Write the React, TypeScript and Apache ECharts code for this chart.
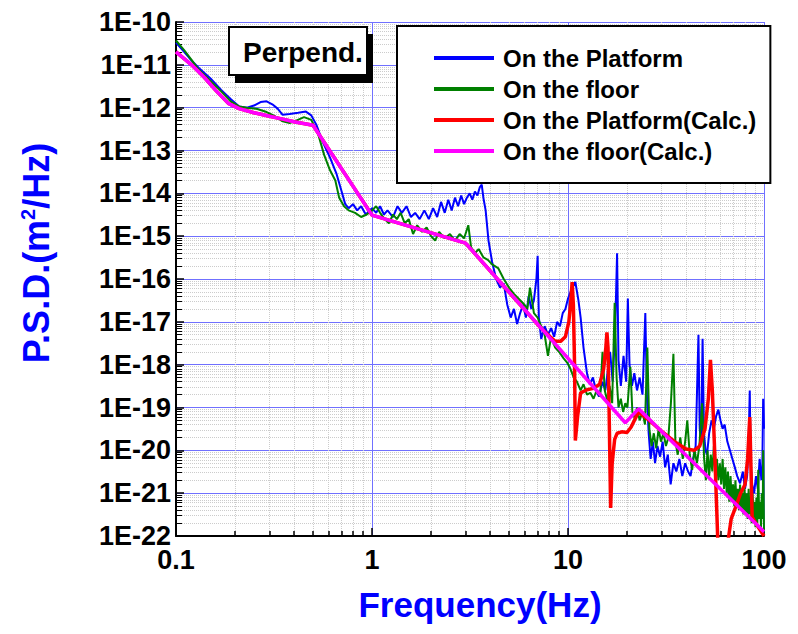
import React, { useEffect, useRef } from "react";
import * as echarts from "echarts";

const FONT = "'Liberation Sans', Arial, sans-serif";

const seriesNames = ["On the Platform", "On the floor", "On the Platform(Calc.)", "On the floor(Calc.)"];
const seriesColors = ["#0000ff", "#008000", "#ff0000", "#ff00ff"];

const platformFreq = [0.1, 0.11, 0.12, 0.13, 0.15, 0.17, 0.19, 0.21, 0.23, 0.25, 0.27, 0.29, 0.31, 0.33, 0.35, 0.38, 0.42, 0.46, 0.49, 0.52, 0.56, 0.61, 0.66, 0.7, 0.73, 0.76, 0.8, 0.84, 0.88, 0.93, 1.0, 1.05, 1.1, 1.15, 1.2, 1.28, 1.35, 1.42, 1.5, 1.58, 1.66, 1.75, 1.85, 1.95, 2.05, 2.15, 2.25, 2.35, 2.45, 2.55, 2.65, 2.75, 2.85, 2.95, 3.05, 3.15, 3.25, 3.35, 3.45, 3.55, 3.63, 3.7, 3.8, 3.93, 4.1, 4.3, 4.5, 4.7, 4.9, 5.1, 5.3, 5.5, 5.7, 5.9, 6.1, 6.3, 6.5, 6.7, 6.9, 7.0, 7.1, 7.3, 7.6, 7.9, 8.2, 8.5, 8.8, 9.1, 9.4, 9.7, 10.0, 10.4, 10.9, 11.3, 11.6, 12.0, 12.5, 12.9, 13.4, 13.9, 14.4, 15.0, 15.5, 15.9, 16.4, 16.9, 17.4, 17.8, 18.1, 18.6, 19.2, 19.8, 20.2, 20.6, 21.2, 21.8, 22.5, 23.2, 24.0, 24.8, 25.3, 25.8, 26.4, 27.1, 27.8, 28.6, 29.5, 30.4, 31.3, 32.3, 33.4, 34.5, 35.7, 37.0, 38.3, 39.6, 41.0, 42.2, 43.5, 44.8, 45.6, 46.3, 47.0, 47.8, 48.6, 49.4, 50.3, 51.2, 52.5, 54, 55.5, 57, 58.5, 60, 61.5, 63, 65, 67, 69, 71, 73, 75.5, 78, 80, 82, 83.5, 84.6, 85.5, 87, 89, 91, 93, 95, 97, 98, 99, 100];
const platformPsd = [3.3e-11, 2.0e-11, 1.26e-11, 8.7e-12, 4.8e-12, 2.6e-12, 1.6e-12, 1.07e-12, 1.0e-12, 1.12e-12, 1.35e-12, 1.41e-12, 1.2e-12, 9.5e-13, 6.8e-13, 7.1e-13, 7.6e-13, 8.1e-13, 6.6e-13, 4.0e-13, 1.6e-13, 6.9e-14, 2.8e-14, 1.1e-14, 5.6e-15, 4.5e-15, 5.6e-15, 4.0e-15, 5.0e-15, 3.2e-15, 4.5e-15, 3.5e-15, 5.0e-15, 3.2e-15, 4.0e-15, 2.8e-15, 5.0e-15, 3.5e-15, 5.0e-15, 2.8e-15, 3.5e-15, 2.5e-15, 4.0e-15, 2.5e-15, 4.5e-15, 2.8e-15, 6.3e-15, 3.5e-15, 7.1e-15, 4.0e-15, 7.9e-15, 5.0e-15, 8.9e-15, 5.6e-15, 7.9e-15, 1.0e-14, 7.1e-15, 1.1e-14, 8.9e-15, 1.4e-14, 1.6e-14, 7.9e-15, 4.0e-15, 7.9e-16, 2.5e-16, 1.0e-16, 6.3e-17, 7.9e-17, 2.5e-17, 1.26e-17, 2.0e-17, 8.9e-18, 1.6e-17, 2.5e-17, 1.26e-17, 4.0e-17, 2.0e-17, 3.2e-17, 1.0e-16, 3.5e-16, 1.26e-17, 4.0e-18, 7.9e-18, 5.0e-18, 7.1e-18, 4.5e-18, 1.0e-17, 7.9e-18, 1.6e-17, 2.0e-17, 3.5e-17, 5.6e-17, 8.5e-17, 3.2e-17, 1.26e-17, 2.5e-18, 6.3e-19, 3.5e-19, 5.0e-19, 2.5e-19, 1.8e-19, 4.0e-19, 2.5e-19, 6.3e-19, 2.0e-18, 4.0e-19, 6.3e-18, 4.0e-16, 1.26e-18, 3.2e-19, 1.6e-18, 4.0e-19, 3.5e-17, 1.0e-18, 3.2e-19, 6.3e-19, 2.5e-19, 5.0e-19, 2.0e-19, 1.6e-17, 1.6e-19, 2.5e-20, 6.3e-21, 1.6e-20, 5.0e-21, 1.26e-20, 7.1e-21, 1.6e-20, 4.0e-21, 7.9e-21, 1.6e-21, 5.0e-21, 3.2e-21, 6.3e-21, 2.5e-21, 5.0e-21, 3.2e-21, 2.5e-21, 6.3e-21, 1.26e-20, 3.2e-19, 5.0e-18, 3.2e-20, 1.6e-20, 4.0e-18, 2.5e-20, 1.0e-20, 7.9e-21, 2.5e-20, 5.0e-20, 3.2e-20, 6.3e-20, 8.9e-20, 5.0e-20, 3.2e-20, 4.0e-20, 1.6e-20, 1.0e-20, 6.3e-21, 4.0e-21, 2.5e-21, 1.7e-21, 3.2e-21, 1.26e-21, 2.5e-21, 1.6e-20, 2.5e-19, 5.0e-21, 1.6e-21, 1.0e-21, 2.5e-21, 1.26e-21, 6.3e-21, 2.0e-21, 3.2e-21, 1.6e-19, 3.2e-20];

const floorFreq = [0.1, 0.11, 0.12, 0.13, 0.15, 0.17, 0.19, 0.21, 0.23, 0.26, 0.29, 0.32, 0.35, 0.38, 0.41, 0.45, 0.49, 0.53, 0.57, 0.61, 0.65, 0.68, 0.72, 0.76, 0.82, 0.88, 0.94, 1.0, 1.05, 1.1, 1.16, 1.22, 1.28, 1.34, 1.4, 1.47, 1.54, 1.62, 1.7, 1.8, 1.9, 2.0, 2.1, 2.2, 2.35, 2.5, 2.65, 2.8, 2.95, 3.1, 3.2, 3.35, 3.5, 3.7, 3.9, 4.1, 4.4, 4.7, 5.0, 5.3, 5.7, 6.0, 6.2, 6.4, 6.7, 7.0, 7.3, 7.6, 7.9, 8.2, 8.6, 9.0, 9.5, 9.9, 10.3, 10.7, 11.1, 11.6, 12.0, 12.5, 13.0, 13.5, 14.0, 14.6, 15.0, 15.4, 15.9, 16.3, 16.8, 17.3, 17.7, 18.1, 18.6, 19.1, 19.6, 20.1, 20.8, 21.3, 21.9, 22.5, 23.2, 24.0, 24.7, 25.4, 26.0, 26.7, 27.4, 28.2, 29.0, 29.8, 30.7, 31.6, 32.5, 33.5, 34.5, 35.3, 36.3, 37.4, 38.5, 39.6, 40.6, 41.8, 43.0, 44.2, 45.5, 46.8, 48.3, 49.5, 50.5, 51.5, 52.5, 53.5, 54.5, 55.5, 56.5, 57.5, 58.5, 59.5, 60.5, 61.5, 62.5, 63.5, 64.5, 65.5, 66.5, 67.5, 68.5, 69.5, 70.5, 71.5, 72.5, 73.5, 74.5, 75.5, 76.5, 77.5, 78.5, 79.5, 80.5, 81.5, 82.5, 83.5, 84.5, 85.5, 86.5, 87.5, 88.5, 89.5, 90.5, 91.5, 92.5, 93.5, 94.5, 95.5, 96.5, 97.5, 98.5, 99, 100];
const floorPsd = [3.7e-11, 2.2e-11, 1.3e-11, 7.9e-12, 4.2e-12, 2.4e-12, 1.4e-12, 1.07e-12, 1.0e-12, 9.3e-13, 7.9e-13, 6.3e-13, 4.8e-13, 4.4e-13, 5.0e-13, 6.0e-13, 5.2e-13, 2.5e-13, 7.9e-14, 3.5e-14, 2.0e-14, 7.9e-15, 5.0e-15, 4.0e-15, 3.5e-15, 2.8e-15, 3.2e-15, 4.0e-15, 5.0e-15, 3.5e-15, 2.5e-15, 2.0e-15, 3.2e-15, 2.5e-15, 3.5e-15, 2.0e-15, 2.5e-15, 1.12e-15, 1.8e-15, 1.26e-15, 1.6e-15, 1.0e-15, 7.9e-16, 1.26e-15, 8.9e-16, 1.12e-15, 7.9e-16, 1.12e-15, 8.9e-16, 1.8e-15, 5.6e-16, 4.0e-16, 5.0e-16, 3.2e-16, 2.8e-16, 2.2e-16, 1.8e-16, 1.0e-16, 6.3e-17, 4.5e-17, 3.2e-17, 2.5e-17, 2.0e-17, 6.3e-17, 1.6e-17, 1.26e-17, 7.9e-18, 5.0e-18, 1.6e-18, 4.5e-18, 2.5e-18, 2.0e-18, 1.4e-18, 1.12e-18, 7.9e-19, 5.0e-19, 4.0e-19, 2.5e-19, 3.5e-19, 2.0e-19, 2.2e-19, 1.6e-19, 2.5e-19, 1.8e-19, 2.0e-18, 2.5e-19, 1.4e-19, 3.2e-19, 1.26e-19, 2.8e-17, 5.0e-19, 1.0e-19, 1.6e-19, 7.9e-20, 1.26e-19, 1.0e-19, 8.9e-19, 7.9e-20, 5.6e-20, 1.0e-19, 5.0e-20, 7.9e-20, 4.0e-20, 2.5e-18, 3.2e-20, 1.26e-20, 2.5e-20, 1.12e-20, 3.2e-20, 1.6e-20, 2.5e-20, 1.26e-20, 2.0e-20, 1.26e-19, 1.8e-18, 1.6e-20, 7.9e-21, 2.0e-20, 6.3e-21, 1.6e-20, 5.0e-20, 7.9e-21, 3.5e-21, 1.0e-20, 5.0e-21, 1.26e-20, 1.26e-19, 6.3e-21, 2.0e-21, 1.0e-20, 2.5e-21, 7.9e-21, 3.2e-21, 1.26e-20, 2.5e-21, 6.3e-21, 2.0e-21, 5.0e-21, 1.6e-21, 6.3e-21, 1.26e-21, 4.0e-21, 1.0e-21, 3.2e-21, 6.3e-22, 2.5e-21, 6.3e-22, 1.6e-21, 5.0e-22, 2.0e-21, 5.0e-22, 1.26e-21, 4.0e-22, 1.6e-21, 4.0e-22, 1.0e-21, 3.2e-22, 1.4e-21, 3.2e-22, 1.0e-21, 2.5e-22, 1.26e-21, 3.2e-22, 7.9e-22, 2.0e-22, 1.0e-21, 2.5e-22, 6.3e-22, 1.6e-22, 7.9e-22, 2.0e-22, 3.5e-21, 2.5e-22, 6.3e-22, 1.6e-22, 1.0e-21, 2.5e-22, 1.0e-20, 1.26e-22];

const platformCalcFreq = [0.1, 0.12, 0.14, 0.16, 0.185, 0.21, 0.25, 0.3, 0.35, 0.4, 0.5, 1.0, 3.0, 7.0, 7.9, 8.6, 9.16, 9.7, 10.1, 10.3, 10.5, 10.65, 10.8, 10.9, 11.2, 11.6, 12.5, 13.5, 14.5, 15.2, 15.6, 15.8, 16.0, 16.2, 16.5, 16.8, 17.3, 17.8, 18.8, 20.0, 21.0, 22.9, 26, 30, 35, 40, 44, 47, 50, 52, 53.3, 54.5, 56, 57.5, 58.5, 62, 65.6, 68, 72, 76, 80, 82.5, 84.6, 85.8, 87, 92, 100];
const platformCalcPsd = [2.0e-11, 1.0e-11, 5.0e-12, 2.5e-12, 1.26e-12, 9.5e-13, 7.6e-13, 6.3e-13, 5.4e-13, 4.7e-13, 3.9e-13, 3.1e-15, 6.9e-16, 8.7e-18, 5.0e-18, 3.5e-18, 3.5e-18, 4.5e-18, 1.0e-17, 2.5e-17, 8.5e-17, 2.5e-17, 1.0e-18, 1.7e-20, 6.3e-20, 2.2e-19, 2.6e-19, 2.8e-19, 3.5e-19, 7.9e-19, 2.5e-18, 5.7e-18, 2.5e-18, 1.0e-19, 4.5e-22, 5.0e-21, 1.8e-20, 2.5e-20, 2.7e-20, 2.6e-20, 3.5e-20, 7.9e-20, 5.0e-20, 2.8e-20, 1.6e-20, 1.07e-20, 1.0e-20, 1.26e-20, 3.2e-20, 1.6e-19, 1.3e-18, 2.5e-19, 1.0e-20, 3.2e-22, 3.2e-23, 1.0e-23, 7.9e-23, 2.5e-22, 5.0e-22, 1.0e-21, 1.6e-21, 6.3e-21, 6.0e-20, 4.0e-21, 2.8e-22, 1.8e-22, 1.0e-22];

const floorCalcFreq = [0.1, 0.12, 0.14, 0.16, 0.185, 0.21, 0.25, 0.3, 0.35, 0.4, 0.5, 1.0, 3.0, 19.6, 22.9, 100];
const floorCalcPsd = [2.0e-11, 1.0e-11, 5.0e-12, 2.5e-12, 1.26e-12, 9.5e-13, 7.6e-13, 6.3e-13, 5.4e-13, 4.7e-13, 3.9e-13, 3.1e-15, 6.9e-16, 4.4e-20, 9.3e-20, 1.26e-22];

const xRange = [0.1, 100];
const yRange = [1e-22, 1e-10];
// ECharts' log axis rounds values this small to 0, so PSD values are plotted
// multiplied by 10^Y_SHIFT and the tick labels shift the exponent back.
const Y_SHIFT = 22;
const yScale = Math.pow(10, Y_SHIFT);

const pairs = (fs: number[], vs: number[]) => fs.map((f, i) => [f, vs[i] * yScale]);

export default function App() {
  const ref = useRef<HTMLDivElement>(null);
  useEffect(() => {
    if (!ref.current) return;
    const chart = echarts.init(ref.current, null, { renderer: "svg" });
    const datasets = [
      pairs(platformFreq, platformPsd),
      pairs(floorFreq, floorPsd),
      pairs(platformCalcFreq, platformCalcPsd),
      pairs(floorCalcFreq, floorCalcPsd),
    ];
    const widths = [2, 2, 3.5, 3.5];
    const tickFont = { fontSize: 27, fontWeight: "bold" as const, color: "#000", fontFamily: FONT };
    chart.setOption({
      animation: false,
      backgroundColor: "#fff",
      grid: { left: 176, right: 34, top: 22, bottom: 98, containLabel: false },
      xAxis: {
        type: "log",
        logBase: 10,
        min: xRange[0],
        max: xRange[1],
        name: "Frequency(Hz)",
        nameLocation: "middle",
        nameGap: 51,
        nameTextStyle: { fontSize: 35, fontWeight: "bold", color: "#0000ff", fontFamily: FONT, padding: [0, 0, 0, 20] },
        axisLine: { show: true, lineStyle: { color: "#000", width: 2 } },
        axisTick: { show: true, inside: true, length: 8, lineStyle: { color: "#000", width: 1.5 } },
        minorTick: { show: true, splitNumber: 9, length: 5, lineStyle: { color: "#000", width: 1.5 } },
        splitLine: { show: true, lineStyle: { color: "#7070ff", width: 1 } },
        minorSplitLine: { show: true, lineStyle: { color: "#cccccc", width: 1, type: "dotted" } },
        axisLabel: {
          ...tickFont,
          margin: 10,
          showMinLabel: true,
          showMaxLabel: true,
          formatter: (v: number) => {
            const e = Math.round(Math.log10(v));
            return e < 0 ? Math.pow(10, e).toFixed(-e) : String(Math.pow(10, e));
          },
        },
      },
      yAxis: {
        type: "log",
        logBase: 10,
        min: yRange[0] * yScale,
        max: yRange[1] * yScale,
        interval: 1,
        name: "P.S.D.(m{sup|2}/Hz)",
        nameLocation: "middle",
        nameGap: 122,
        nameTextStyle: {
          fontSize: 36,
          fontWeight: "bold",
          color: "#0000ff",
          fontFamily: FONT,
          padding: [0, 0, 0, 52],
          rich: {
            sup: { fontSize: 20, fontWeight: "bold", color: "#0000ff", fontFamily: FONT, verticalAlign: "top", padding: [0, 0, 14, 0] },
          },
        },
        axisLine: { show: true, lineStyle: { color: "#000", width: 2 } },
        axisTick: { show: true, inside: true, length: 8, lineStyle: { color: "#000", width: 1.5 } },
        minorTick: { show: true, splitNumber: 9, length: 6, lineStyle: { color: "#000", width: 1 } },
        splitLine: { show: true, lineStyle: { color: "#7070ff", width: 1 } },
        minorSplitLine: { show: true, lineStyle: { color: "#cccccc", width: 1, type: "dotted" } },
        axisLabel: {
          ...tickFont,
          margin: 5,
          showMinLabel: true,
          showMaxLabel: true,
          formatter: (v: number) => "1E" + (Math.round(Math.log10(v)) - Y_SHIFT),
        },
      },
      legend: {
        data: seriesNames,
        orient: "vertical",
        left: 397,
        top: 26,
        padding: [20, 14, 20, 37],
        itemGap: 7,
        itemWidth: 60,
        itemHeight: 4,
        icon: "rect",
        backgroundColor: "#fff",
        borderColor: "#000",
        borderWidth: 2,
        borderRadius: 0,
        textStyle: { fontSize: 24, fontWeight: "bold", color: "#000", fontFamily: FONT, lineHeight: 24, padding: [0, 0, 0, 4] },
      },
      graphic: [
        { type: "rect", shape: { x: 235, y: 34, width: 138, height: 49 }, style: { fill: "#000" }, z: 100 },
        { type: "rect", shape: { x: 229, y: 27, width: 138, height: 48 }, style: { fill: "#fff", stroke: "#000", lineWidth: 2 }, z: 101 },
        {
          type: "text",
          x: 303,
          y: 52,
          z: 102,
          style: { text: "Perpend.", fill: "#000", font: `bold 28px ${FONT}`, textAlign: "center", textVerticalAlign: "middle" },
        },
      ],
      series: datasets.map((d, i) => ({
        name: seriesNames[i],
        type: "line",
        data: d,
        showSymbol: false,
        symbol: "none",
        clip: true,
        color: seriesColors[i],
        lineStyle: { color: seriesColors[i], width: widths[i] },
        z: 2 + i,
      })),
    });
    return () => chart.dispose();
  }, []);
  return <div ref={ref} style={{ width: 798, height: 634, margin: -8 }} />;
}
